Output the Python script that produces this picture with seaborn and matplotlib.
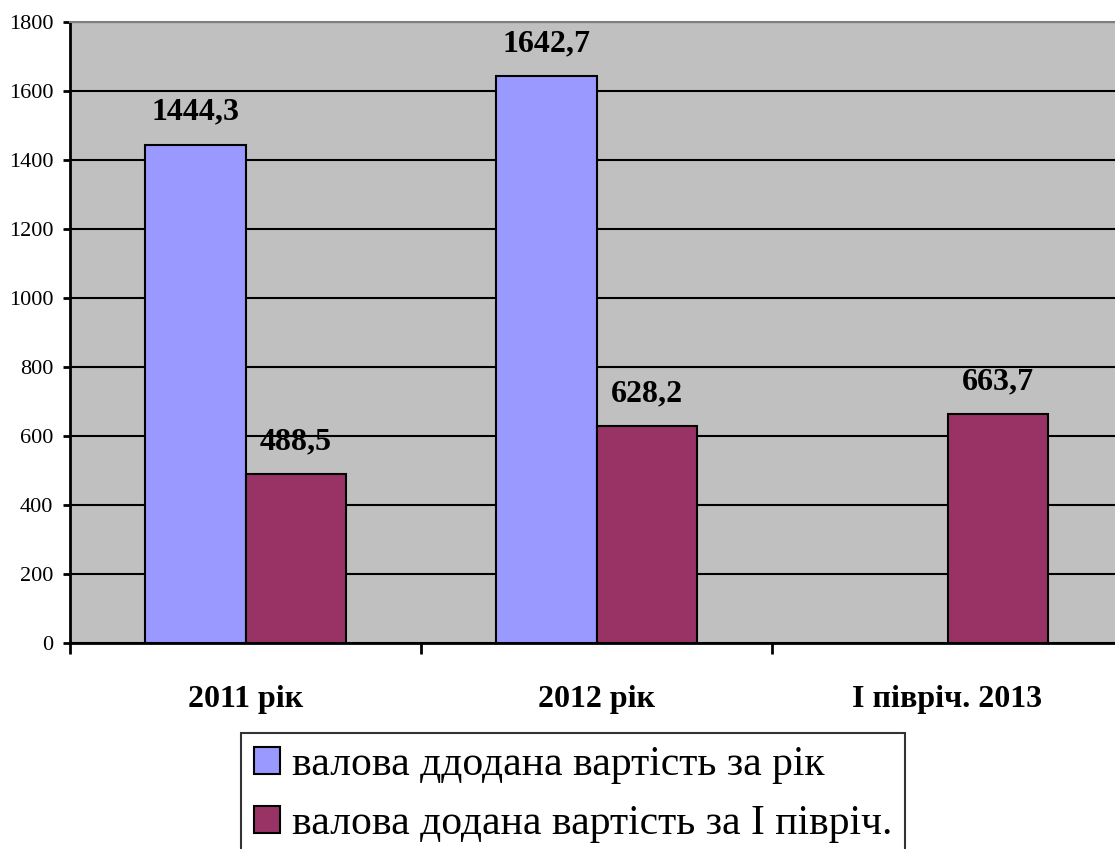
import numpy as np
import pandas as pd
import matplotlib.pyplot as plt
import seaborn as sns
from matplotlib.patches import Patch

categories = ["2011 рік", "2012 рік", "І півріч. 2013"]
series_names = ["валова ддодана вартість за рік", "валова додана вартість за І півріч."]
vals_year = [1444.3, 1642.7, np.nan]
vals_half = [488.5, 628.2, 663.7]
yticks = [0, 200, 400, 600, 800, 1000, 1200, 1400, 1600, 1800]
colors = ["#9999FF", "#993366"]

df = pd.DataFrame({
    "cat": categories * 2,
    "series": [series_names[0]] * 3 + [series_names[1]] * 3,
    "value": vals_year + vals_half,
})

sns.set_style("white")
plt.rcParams["font.family"] = ["Liberation Serif", "DejaVu Serif"]
plt.rcParams["text.color"] = "black"
plt.rcParams["xtick.color"] = "black"
plt.rcParams["ytick.color"] = "black"

fig = plt.figure(figsize=(11.15, 8.49), dpi=100)
# plot area runs past the right edge, like the original
ax = fig.add_axes([70 / 1115, 206 / 849, 1053 / 1115, 621 / 849])
ax.set_facecolor("#C0C0C0")

sns.barplot(data=df, x="cat", y="value", hue="series",
            palette=colors, width=0.57,
            edgecolor="black", linewidth=1.5, saturation=1,
            ax=ax, legend=False)

ax.set_ylim(0, 1800)
ax.set_xlim(-0.5, 2.5)
ax.set_yticks(yticks)
ax.set_axisbelow(True)
ax.yaxis.grid(True, color="black", linewidth=1.5)
ax.xaxis.grid(False)
ax.set_xlabel("")
ax.set_ylabel("")

for s in ["left", "bottom"]:
    ax.spines[s].set_color("black")
    ax.spines[s].set_linewidth(2)
ax.spines["top"].set_color("#808080")
ax.spines["top"].set_linewidth(1.5)
ax.spines["right"].set_visible(False)

ax.tick_params(axis="y", direction="out", length=5, width=2, color="black",
               labelsize=16, pad=7, left=True, labelcolor="black")
ax.set_xticks(range(len(categories)))
ax.set_xticklabels(categories, fontsize=23, fontweight="bold", color="black")
ax.tick_params(axis="x", length=0, pad=30)
ax.set_xticks([-0.5, 0.5, 1.5, 2.5], minor=True)
ax.tick_params(axis="x", which="minor", direction="out", length=8, width=2,
               color="black", bottom=True)

# value labels above bars
for cont in ax.containers:
    labs = ["" if np.isnan(v) else f"{v:.1f}".replace(".", ",") for v in cont.datavalues]
    ax.bar_label(cont, labels=labs, padding=13, fontsize=23, fontweight="bold", color="black")

handles = [Patch(facecolor=c, edgecolor="black", linewidth=1.5) for c in colors]
leg = fig.legend(handles, series_names, loc="upper center",
                 bbox_to_anchor=(0.514, 0.1366), fontsize=30,
                 frameon=True, fancybox=False, edgecolor="black",
                 handlelength=0.62, handleheight=0.62, handletextpad=0.29,
                 labelspacing=0.5, borderpad=0.3, borderaxespad=0)
leg.get_frame().set_linewidth(1.5)
for t in leg.get_texts():
    t.set_color("black")

fig.savefig("out.png", dpi=100)
